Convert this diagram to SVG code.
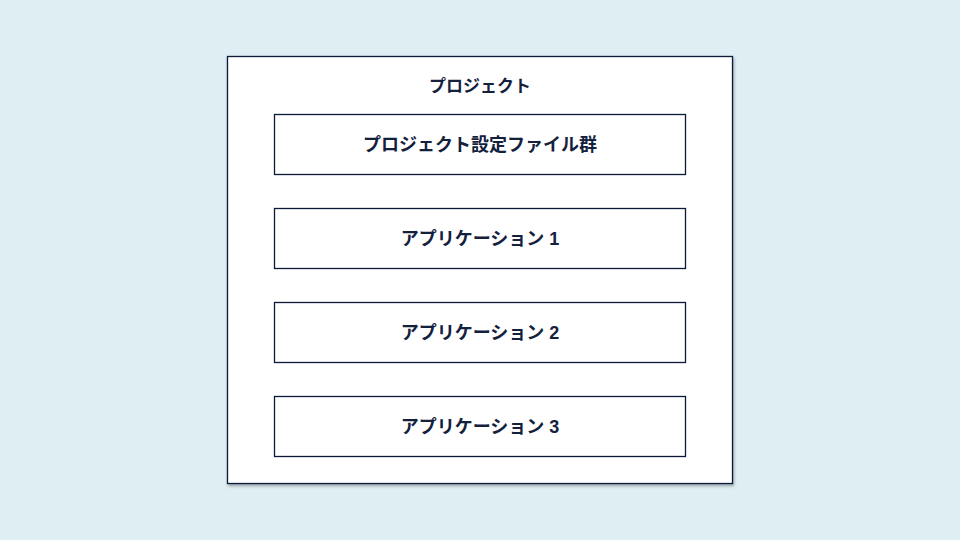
<svg xmlns="http://www.w3.org/2000/svg" width="960" height="540" viewBox="0 0 960 540">
<defs>
<filter id="sh" x="-5%" y="-5%" width="110%" height="110%">
<feDropShadow dx="1" dy="2" stdDeviation="1.5" flood-color="#000" flood-opacity="0.3"/>
</filter>
<style>
.box{fill:#fff;stroke:#0c1a3a;stroke-width:1.3}
.t{font-family:"Liberation Sans","Noto Sans CJK JP",sans-serif;font-weight:bold;font-size:18px;fill:#14213d;text-anchor:middle;dominant-baseline:central}
</style>
</defs>
<rect width="960" height="540" fill="#dfeef2"/>
<g id="project">
<rect class="box" x="227.5" y="56.5" width="505" height="427" filter="url(#sh)"/>
<text class="t" x="480" y="86" style="font-size:17px">プロジェクト</text>
</g>
<g id="settings">
<rect class="box" x="274.5" y="114.5" width="411" height="60"/>
<text class="t" x="480" y="145">プロジェクト設定ファイル群</text>
</g>
<g id="app1">
<rect class="box" x="274.5" y="208.5" width="411" height="60"/>
<text class="t" x="480" y="239">アプリケーション 1</text>
</g>
<g id="app2">
<rect class="box" x="274.5" y="302.5" width="411" height="60"/>
<text class="t" x="480" y="333">アプリケーション 2</text>
</g>
<g id="app3">
<rect class="box" x="274.5" y="396.5" width="411" height="60"/>
<text class="t" x="480" y="427">アプリケーション 3</text>
</g>
<g id="connectors"></g>
</svg>
